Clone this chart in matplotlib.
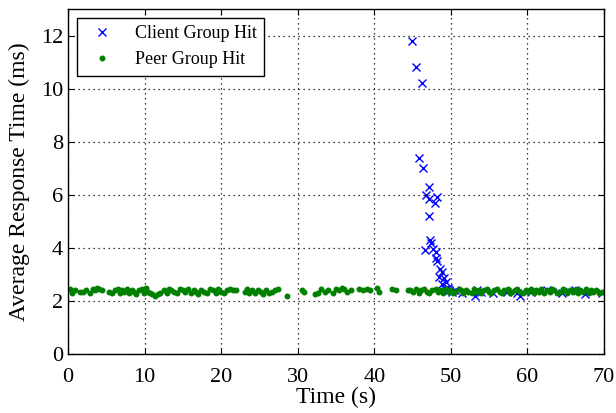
import matplotlib
matplotlib.use("Agg")
import matplotlib.pyplot as plt

plt.rcParams['font.family'] = ['Liberation Serif', 'DejaVu Serif']

# client group hits (blue crosses)
client_t = [44.9, 45.4, 46.2, 45.9, 46.4, 47.1, 46.8, 47.1, 48.2, 47.9,
            47.1, 47.3, 47.4, 46.6, 47.7, 48.1, 48.2, 48.0, 48.6, 48.8,
            48.5, 49.1, 49.4, 48.9, 49.6, 49.2, 49.8, 50.2, 50.6, 51.5,
            53.2, 53.4, 54.0, 55.5, 57.3, 58.6, 59.0, 60.5, 62.5, 64.5,
            66.2, 67.5, 69.7]
client_rt = [11.8, 10.8, 10.2, 7.4, 7.0, 6.3, 6.0, 5.85, 5.9, 5.7,
             5.2, 4.3, 4.2, 3.9, 3.95, 3.85, 3.5, 3.6, 3.2, 3.1,
             2.9, 2.85, 2.7, 2.65, 2.5, 2.45, 2.4, 2.35, 2.4, 2.3,
             2.2, 2.4, 2.35, 2.3, 2.35, 2.3, 2.2, 2.35, 2.4, 2.3,
             2.4, 2.25, 2.3]

# peer group hits (green dots)
peer_t = [0.2, 0.5, 0.9, 1.6, 2.0, 2.4, 2.9, 3.2, 3.5, 3.8, 4.1, 4.4,
          5.4, 5.8, 6.1, 6.5, 6.8, 7.0, 7.3, 7.7, 8.0, 8.3, 8.6, 8.9,
          9.3, 9.6, 9.9, 10.2, 10.4, 10.7, 11.0, 11.3, 11.7, 12.0,
          12.5, 12.9, 13.2, 13.5, 13.9, 14.2, 14.6, 15.0, 15.3, 15.7,
          16.0, 16.4, 16.7, 17.0, 17.4, 17.8, 18.1, 18.5, 18.9, 19.3,
          19.6, 20.0, 20.4, 20.8, 21.2, 21.6,
          22.0, 23.1, 23.4, 23.7, 24.0, 24.4, 24.8, 25.2, 25.5, 25.9,
          26.2, 26.6, 27.0, 27.4, 28.6,
          30.5, 30.8, 32.2, 32.6, 33.0, 33.5, 33.9, 34.6, 35.0, 35.4,
          35.8, 36.1, 36.5, 36.9, 38.0, 38.5, 39.0, 39.4, 40.3, 40.6,
          42.3, 42.8, 44.4,
          44.7, 45.1, 45.4, 45.8, 46.1, 46.5, 46.9, 47.2, 47.6, 48.0,
          48.3, 48.7, 49.0, 49.4, 49.7, 50.0, 50.3, 50.6, 51.0, 51.3,
          51.6, 52.0, 52.3, 52.7, 53.0, 53.3, 53.7, 54.0, 54.3, 54.7,
          55.0, 55.3, 55.7, 56.0, 56.4, 56.7, 57.0, 57.4, 57.7, 58.0,
          58.4, 58.7, 59.0, 59.4, 59.8, 60.1, 60.5, 60.8, 61.1, 61.5,
          61.8, 62.2, 62.5, 62.9, 63.2, 63.5, 63.9, 64.2, 64.6, 64.9,
          65.2, 65.6, 65.9, 66.3, 66.6, 66.9, 67.3, 67.6, 68.0, 68.3,
          68.6, 69.0, 69.3, 69.7]
peer_rt = [2.45, 2.3, 2.4, 2.35, 2.35, 2.4, 2.3, 2.45, 2.4, 2.5, 2.45, 2.4,
           2.35, 2.3, 2.4, 2.45, 2.3, 2.4, 2.35, 2.45, 2.3, 2.4, 2.35, 2.25,
           2.4, 2.45, 2.3, 2.5, 2.35, 2.3, 2.25, 2.2, 2.25, 2.3,
           2.4, 2.3, 2.45, 2.4, 2.35, 2.3, 2.45, 2.4, 2.35, 2.45,
           2.3, 2.4, 2.35, 2.25, 2.4, 2.35, 2.3, 2.45, 2.4, 2.3,
           2.45, 2.35, 2.3, 2.4, 2.45, 2.4,
           2.4, 2.35, 2.45, 2.3, 2.4, 2.3, 2.4, 2.35, 2.25, 2.4,
           2.3, 2.35, 2.4, 2.45, 2.2,
           2.4, 2.35, 2.25, 2.3, 2.45, 2.35, 2.4, 2.3, 2.45, 2.4,
           2.5, 2.45, 2.35, 2.4, 2.45, 2.4, 2.45, 2.4, 2.5, 2.35,
           2.45, 2.4, 2.4,
           2.4, 2.35, 2.45, 2.3, 2.4, 2.45, 2.35, 2.3, 2.4, 2.45,
           2.35, 2.4, 2.3, 2.45, 2.35, 2.4, 2.3, 2.35, 2.45, 2.4,
           2.3, 2.4, 2.35, 2.3, 2.45, 2.35, 2.4, 2.3, 2.4, 2.45,
           2.35, 2.3, 2.4, 2.45, 2.35, 2.3, 2.4, 2.45, 2.3, 2.35,
           2.4, 2.45, 2.35, 2.3, 2.4, 2.35, 2.45, 2.3, 2.4, 2.35,
           2.45, 2.3, 2.4, 2.35, 2.45, 2.4, 2.3, 2.35, 2.45, 2.4,
           2.3, 2.4, 2.35, 2.45, 2.3, 2.4, 2.35, 2.45, 2.3, 2.4,
           2.35, 2.4, 2.3, 2.35]

xticks = [0, 10, 20, 30, 40, 50, 60, 70]
yticks = [0, 2, 4, 6, 8, 10, 12]

fig = plt.figure(figsize=(6.16, 4.13), dpi=100)
ax = fig.add_axes([0.1104, 0.1429, 0.8701, 0.8353])

ax.plot(client_t, client_rt, 'x', color='blue', markersize=6, mew=1.0,
        label='Client Group Hit')
ax.plot(peer_t, peer_rt, '.', color='green', markersize=6.5,
        label='Peer Group Hit')

ax.set_xlim(0, 70)
ax.set_ylim(0, 13)
ax.set_xticks(xticks)
ax.set_yticks(yticks)
ax.tick_params(direction='in', top=True, right=True, labelsize=16, length=4)
ax.tick_params(axis='x', pad=10)
ax.grid(True, color='black', linestyle=(0, (1, 3)), linewidth=0.9)
for s in ax.spines.values():
    s.set_linewidth(1.0)

ax.set_xlabel('Time (s)', fontsize=17, labelpad=0)
ax.set_ylabel('Average Response Time (ms)', fontsize=17, labelpad=8)

leg = ax.legend(loc='upper left', fontsize=13, fancybox=False,
                edgecolor='black', framealpha=1, borderaxespad=0.5)
leg.get_frame().set_linewidth(1.0)

fig.savefig('out.png', dpi=100)
